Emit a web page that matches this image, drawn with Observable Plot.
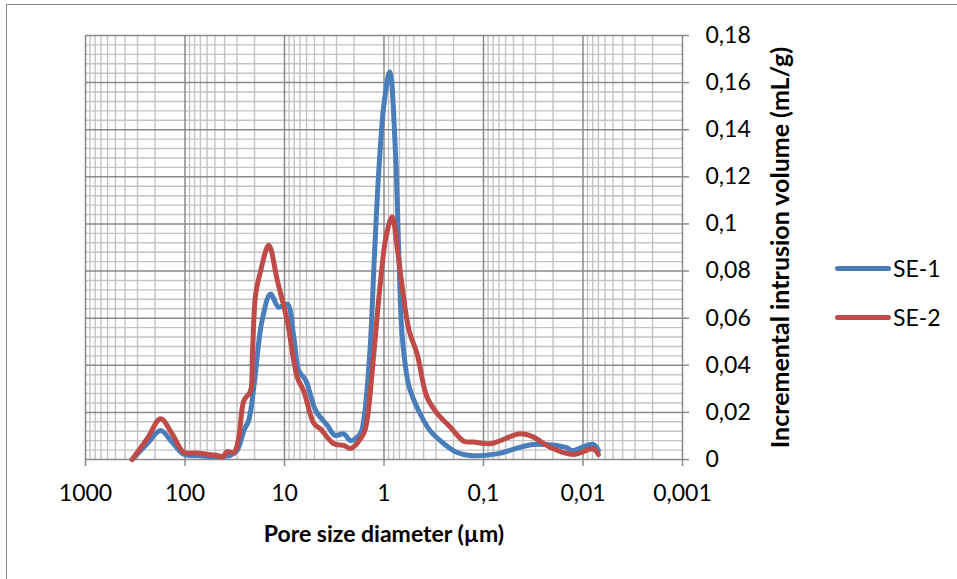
<!DOCTYPE html>
<html>
<head>
<meta charset="utf-8">
<script src="https://cdn.jsdelivr.net/npm/d3@7"></script>
<script src="https://cdn.jsdelivr.net/npm/@observablehq/plot@0.6"></script>
<style>
  body { margin: 0; background: #fff; }
  #wrap { position: relative; width: 957px; height: 579px; overflow: hidden; font-family: Lato, "Open Sans", sans-serif; }
  #frame { position: absolute; left: 6px; top: 4px; width: 1000px; height: 700px; border-left: 1.5px solid #8a8a8a; border-top: 1.5px solid #8a8a8a; }
  #chart { position: absolute; left: 0; top: 0; }
  .leg { position: absolute; left: 835px; display: flex; align-items: center; font-size: 23px; color: #000; }
  .leg span.sw { display: inline-block; width: 56px; height: 5px; border-radius: 3px; margin-right: 2px; }
</style>
</head>
<body>
<div id="wrap">
  <div id="frame"></div>
  <div id="chart"></div>
  <div id="legend"></div>
</div>
<script>
// ---- data ----
const se1Diameter = [340, 240, 176, 135, 103, 80, 60, 45, 35, 30, 25.6, 22.9, 20.3, 16.8, 13.8, 11.5, 9.4, 8.07, 7.2, 6.1, 4.86, 3.7, 3.1, 2.53, 2.16, 1.73, 1.6, 1.39, 1.245, 1.127, 1.0, 0.875, 0.766, 0.71, 0.655, 0.56, 0.45, 0.345, 0.25, 0.186, 0.137, 0.0736, 0.0314, 0.0146, 0.013, 0.0079, 0.0070];
const se1Volume   = [0, 0.0067, 0.0123, 0.0074, 0.0022, 0.0017, 0.0013, 0.0013, 0.0017, 0.0038, 0.0123, 0.0166, 0.031, 0.059, 0.0703, 0.0647, 0.066, 0.052, 0.0378, 0.0335, 0.0208, 0.0144, 0.0102, 0.0109, 0.008, 0.011, 0.0166, 0.045, 0.0874, 0.1227, 0.151, 0.1645, 0.130, 0.0874, 0.052, 0.031, 0.0208, 0.0123, 0.0067, 0.0031, 0.0017, 0.0024, 0.0064, 0.005, 0.0038, 0.0064, 0.0038];

const se2Diameter = [340, 240, 176, 135, 103, 80, 60, 47, 42, 38, 32, 28.8, 25.6, 22, 21, 19.5, 17.4, 14.4, 11.8, 9.4, 7.46, 6.4, 5.07, 4.35, 3.19, 2.53, 2.16, 1.6, 1.48, 1.265, 1.1, 0.95, 0.828, 0.737, 0.655, 0.56, 0.465, 0.37, 0.29, 0.215, 0.158, 0.126, 0.0853, 0.0427, 0.0314, 0.0215, 0.0125, 0.0079, 0.0070];
const se2Volume   = [0, 0.0088, 0.0173, 0.011, 0.003, 0.0028, 0.0022, 0.0017, 0.001, 0.0033, 0.0031, 0.0095, 0.025, 0.029, 0.045, 0.07, 0.080, 0.091, 0.076, 0.059, 0.035, 0.029, 0.0153, 0.013, 0.0067, 0.006, 0.0047, 0.011, 0.0166, 0.045, 0.073, 0.095, 0.1029, 0.090, 0.073, 0.0548, 0.0449, 0.0265, 0.0194, 0.0137, 0.0078, 0.0074, 0.0067, 0.0109, 0.0095, 0.0052, 0.0021, 0.0045, 0.0021];

const seriesNames = ["SE-1", "SE-2"];
const seriesColors = ["#4a7ebb", "#be4b48"];
const xTicks = [1000, 100, 10, 1, 0.1, 0.01, 0.001];
const yTicks = [0, 0.02, 0.04, 0.06, 0.08, 0.1, 0.12, 0.14, 0.16, 0.18];
const xTitle = "Pore size diameter (µm)";
const yTitle = "Incremental intrusion volume (mL/g)";

// ---- derived tables ----
const rows = [
  ...se1Diameter.map((d, i) => ({series: seriesNames[0], d, v: se1Volume[i]})),
  ...se2Diameter.map((d, i) => ({series: seriesNames[1], d, v: se2Volume[i]}))
];
const xMinor = [];
for (let k = 0; k < xTicks.length - 1; k++) {
  const base = xTicks[k + 1];
  for (let m = 2; m <= 9; m++) xMinor.push(base * m);
}
const yMinor = d3.range(0, 0.1801, 0.004).filter(v => Math.abs(v / 0.02 - Math.round(v / 0.02)) > 1e-6);
const fmt = v => String(+v.toFixed(3)).replace(".", ",");

const plot = Plot.plot({
  width: 957,
  height: 579,
  marginLeft: 85,
  marginRight: 275,
  marginTop: 35,
  marginBottom: 120,
  style: {fontFamily: "Lato, 'Open Sans', sans-serif", fontSize: "23px", color: "#000", background: "transparent"},
  x: {type: "log", domain: [1000, 0.001]},
  y: {domain: [0, 0.18]},
  color: {domain: seriesNames, range: seriesColors},
  marks: [
    Plot.ruleX(xMinor, {stroke: "#c3c3c3", strokeWidth: 1.4}),
    Plot.ruleY(yMinor, {stroke: "#c3c3c3", strokeWidth: 1.4}),
    Plot.ruleX(xTicks, {stroke: "#8a8a8a", strokeWidth: 1.5}),
    Plot.ruleY(yTicks, {stroke: "#8a8a8a", strokeWidth: 1.5}),
    Plot.axisX(xTicks, {anchor: "bottom", tickSize: 7, tickPadding: 18, tickFormat: fmt, stroke: "#8a8a8a", strokeWidth: 1.5, fontSize: 23, label: null}),
    Plot.axisY(yTicks, {anchor: "right", tickSize: 6, tickPadding: 17, tickFormat: fmt, stroke: "#8a8a8a", strokeWidth: 1.5, fontSize: 23, label: null}),
    Plot.text([xTitle], {frameAnchor: "bottom", dy: 75, lineAnchor: "middle", textAnchor: "middle", fontWeight: "bold", fontSize: 23}),
    Plot.text([yTitle], {frameAnchor: "right", dx: 98, rotate: -90, lineAnchor: "middle", textAnchor: "middle", fontWeight: "bold", fontSize: 25}),
    Plot.line(rows, {x: "d", y: "v", z: "series", stroke: "series", strokeWidth: 5, curve: "catmull-rom", strokeLinejoin: "round", strokeLinecap: "round"})
  ]
});
document.getElementById("chart").appendChild(plot);

const legend = document.getElementById("legend");
const legY = [269, 318];
seriesNames.forEach((name, i) => {
  const el = document.createElement("div");
  el.className = "leg";
  el.style.top = (legY[i] - 15) + "px";
  el.innerHTML = `<span class="sw" style="background:${seriesColors[i]}"></span>${name}`;
  legend.appendChild(el);
});
</script>
</body>
</html>
